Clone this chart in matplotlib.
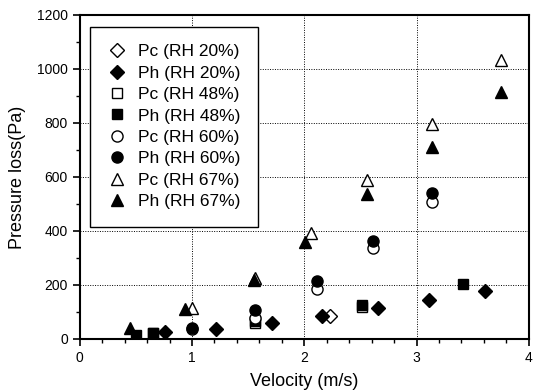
import matplotlib
matplotlib.use("Agg")
import matplotlib.pyplot as plt
from matplotlib.ticker import MultipleLocator

plt.rcParams['font.family'] = ['Liberation Sans', 'DejaVu Sans']

# Data
pc20_x = [2.23]
pc20_y = [85]
ph20_x = [0.76, 1.21, 1.71, 2.16, 2.66, 3.11, 3.61]
ph20_y = [26, 37, 59, 85, 115, 144, 178]
pc48_x = [0.65, 1.56, 2.51]
pc48_y = [22, 59, 118]
ph48_x = [0.50, 0.65, 1.56, 2.51, 3.41]
ph48_y = [16, 24, 66, 126, 204]
pc60_x = [1.00, 1.56, 2.11, 2.61, 3.14]
pc60_y = [36, 78, 185, 337, 507]
ph60_x = [1.00, 1.56, 2.11, 2.61, 3.14]
ph60_y = [40, 107, 215, 362, 542]
pc67_x = [1.00, 1.56, 2.06, 2.56, 3.14, 3.75]
pc67_y = [115, 226, 393, 590, 796, 1033]
ph67_x = [0.45, 0.94, 1.55, 2.01, 2.56, 3.14, 3.75]
ph67_y = [41, 111, 218, 359, 537, 711, 915]

fig = plt.figure(figsize=(5.39, 3.91), dpi=100)
ax = fig.add_axes([0.148, 0.133, 0.833, 0.829])

series = [
    (pc20_x, pc20_y, 'D', 'white', 'Pc (RH 20%)', 7),
    (ph20_x, ph20_y, 'D', 'black', 'Ph (RH 20%)', 7),
    (pc48_x, pc48_y, 's', 'white', 'Pc (RH 48%)', 7),
    (ph48_x, ph48_y, 's', 'black', 'Ph (RH 48%)', 7),
    (pc60_x, pc60_y, 'o', 'white', 'Pc (RH 60%)', 8),
    (ph60_x, ph60_y, 'o', 'black', 'Ph (RH 60%)', 8),
    (pc67_x, pc67_y, '^', 'white', 'Pc (RH 67%)', 9),
    (ph67_x, ph67_y, '^', 'black', 'Ph (RH 67%)', 9),
]
for xs, ys, m, fc, lab, s in series:
    ax.plot(xs, ys, linestyle='none', marker=m, markersize=s,
            markerfacecolor=fc, markeredgecolor='black', markeredgewidth=1.0,
            label=lab, zorder=3)

ax.set_xlim(0, 4)
ax.set_ylim(0, 1200)
ax.xaxis.set_major_locator(MultipleLocator(1))
ax.xaxis.set_minor_locator(MultipleLocator(0.2))
ax.yaxis.set_major_locator(MultipleLocator(200))
ax.yaxis.set_minor_locator(MultipleLocator(100))
ax.grid(True, which='major', linestyle=(0, (1, 1.5)), color='black', linewidth=0.7)
ax.tick_params(which='major', direction='out', length=5, width=1.2, labelsize=10)
ax.tick_params(which='minor', direction='out', length=3, width=1.0)
for sp in ax.spines.values():
    sp.set_linewidth(1.5)

ax.set_xlabel('Velocity (m/s)', fontsize=13, labelpad=6)
ax.set_ylabel('Pressure loss(Pa)', fontsize=13, labelpad=8)

leg = ax.legend(loc='upper left', bbox_to_anchor=(0.022, 0.963), fontsize=12.5,
                frameon=True, fancybox=False, edgecolor='black',
                handletextpad=0.6, labelspacing=0.36, borderpad=1.0,
                borderaxespad=0.0, handlelength=1.2)
leg.get_frame().set_linewidth(1.0)
leg.get_frame().set_alpha(1)

fig.savefig('out.png', dpi=100)
